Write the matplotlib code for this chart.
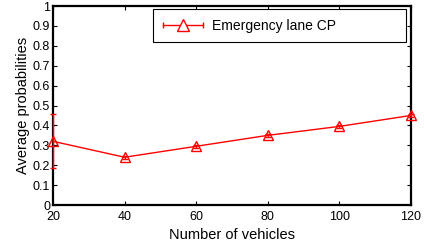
import matplotlib
matplotlib.use("Agg")
import matplotlib.pyplot as plt
from matplotlib.legend_handler import HandlerBase
from matplotlib.lines import Line2D

plt.rcParams["font.family"] = ["Liberation Sans", "DejaVu Sans"]

vehicles = [20, 40, 60, 80, 100, 120]
probabilities = [0.32, 0.24, 0.295, 0.35, 0.395, 0.45]
errors = [0.135, 0.008, 0.008, 0.008, 0.008, 0.008]
y_ticks = [0, 0.1, 0.2, 0.3, 0.4, 0.5, 0.6, 0.7, 0.8, 0.9, 1]
y_labels = ["0", "0.1", "0.2", "0.3", "0.4", "0.5", "0.6", "0.7", "0.8", "0.9", "1"]


class GnuplotErrorHandle(HandlerBase):
    # horizontal line with end caps and a marker in the middle
    def create_artists(self, legend, orig_handle, xdescent, ydescent,
                       width, height, fontsize, trans):
        y = height / 2 - ydescent
        x0, x1 = -xdescent, width - xdescent
        line = Line2D([x0, x1], [y, y], color="red", linewidth=1.0, transform=trans)
        caps = Line2D([x0, x1], [y, y], linestyle="none", marker="|", markersize=5,
                      markeredgewidth=1.0, color="red", transform=trans)
        mark = Line2D([(x0 + x1) / 2], [y], linestyle="none", marker="^", markersize=8,
                      markerfacecolor="white", markeredgecolor="red",
                      markeredgewidth=1.0, transform=trans)
        return [line, caps, mark]


fig = plt.figure(figsize=(4.24, 2.45), dpi=100, facecolor="white")
ax = fig.add_axes([53 / 424, 1 - 205 / 245, 358 / 424, 199 / 245])

series = ax.errorbar(
    vehicles,
    probabilities,
    yerr=errors,
    color="red",
    linewidth=1.0,
    marker="^",
    markersize=7,
    markerfacecolor="none",
    markeredgecolor="red",
    markeredgewidth=1.0,
    capsize=2.5,
    elinewidth=1.0,
    clip_on=False,
    zorder=3,
)

ax.set_xlim(20, 120)
ax.set_ylim(0, 1)
ax.set_xticks(vehicles)
ax.set_yticks(y_ticks)
ax.set_yticklabels(y_labels)
ax.tick_params(direction="in", top=True, right=True, length=3, width=0.8, labelsize=9, pad=2)
ax.tick_params(axis="x", pad=4)
for spine in ax.spines.values():
    spine.set_linewidth(1.6)
ax.set_xlabel("Number of vehicles", fontsize=10.5, labelpad=4)
ax.set_ylabel("Average probabilities", fontsize=10.5, labelpad=2)

legend = ax.legend(
    [series],
    ["Emergency lane CP"],
    handler_map={type(series): GnuplotErrorHandle()},
    loc="upper left",
    bbox_to_anchor=(0.279, 0.84, 0.707, 0.145),
    mode="expand",
    fontsize=10,
    fancybox=False,
    framealpha=1,
    edgecolor="black",
    borderpad=0.7,
    handlelength=2.9,
    handletextpad=0.65,
    borderaxespad=0,
)
legend.get_frame().set_linewidth(0.8)

fig.savefig("out.png", dpi=100, facecolor="white")
